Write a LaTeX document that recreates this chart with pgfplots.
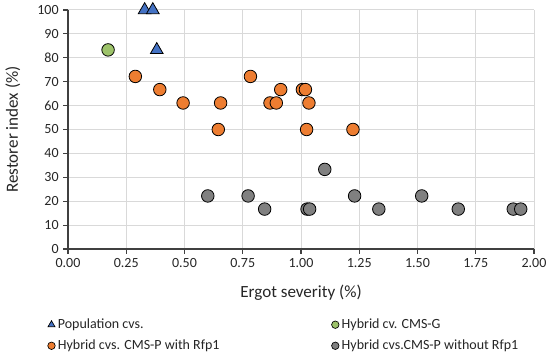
\documentclass[border=0pt]{standalone}
\usepackage{fontspec}
\setmainfont{Carlito}
\usepackage{pgfplots}
\pgfplotsset{compat=1.18}
\definecolor{cblue}{HTML}{4472C4}
\definecolor{corange}{HTML}{ED7D31}
\definecolor{cgreen}{HTML}{9DC36A}
\definecolor{cgray}{HTML}{808080}
\definecolor{gridc}{HTML}{D9D9D9}
\definecolor{axc}{HTML}{404040}
\begin{document}
\begin{tikzpicture}
\path[use as bounding box] (0pt,0pt) rectangle (412.5pt,267pt);
\begin{axis}[
  at={(51pt,80.25pt)}, anchor=south west,
  scale only axis, width=349.5pt, height=179.25pt,
  xmin=0, xmax=2, ymin=0, ymax=100,
  xtick={0,0.25,...,2.0},
  ytick={0,10,...,100},
  xticklabel style={/pgf/number format/.cd,fixed,fixed zerofill,precision=2},
  /pgf/number format/assume math mode=true,
  axis x line*=bottom, axis y line*=left,
  axis line style={axc,line width=0.8pt,-},
  tick align=outside,
  major tick length=3.5pt,
  tick style={axc,line width=0.8pt},
  grid=major,
  major grid style={gridc,line width=0.75pt},
  ticklabel style={font=\fontsize{10.5}{12}\selectfont, text=black!85},
  xlabel={Ergot severity (\%)},
  ylabel={Restorer index (\%)},
  label style={font=\fontsize{12.8}{14}\selectfont, text=black!85},
  xlabel style={yshift=-6pt},
  ylabel style={yshift=6pt},
  clip=false,
  legend columns=2,
  legend style={at={(-0.044,-0.28)}, anchor=north west, draw=none,
     font=\fontsize{10.5}{12}\selectfont, text=black!85,
     row sep=3pt, inner sep=0pt,
     /tikz/every odd column/.append style={column sep=0pt},
     /tikz/every even column/.append style={column sep=82pt}},
  legend cell align=left,
]
\addlegendimage{only marks, mark=triangle*, mark size=3pt, mark options={fill=cblue, draw=black, line width=0.5pt}}
\addlegendentry{Population cvs.}
\addlegendimage{only marks, mark=*, mark size=2.8pt, mark options={fill=cgreen, draw=black, line width=0.5pt}}
\addlegendentry{Hybrid cv. CMS-G}
\addlegendimage{only marks, mark=*, mark size=2.8pt, mark options={fill=corange, draw=black, line width=0.5pt}}
\addlegendentry{Hybrid cvs. CMS-P with Rfp1}
\addlegendimage{only marks, mark=*, mark size=2.8pt, mark options={fill=cgray, draw=black, line width=0.5pt}}
\addlegendentry{Hybrid cvs.CMS-P without Rfp1}

\addplot[forget plot, only marks, mark=*, mark size=4.7pt, mark options={fill=cgray, draw=black, line width=0.6pt}] coordinates {
(0.600,22.2) (0.773,22.2) (0.844,16.7) (1.026,16.7) (1.037,16.7) (1.102,33.3)
(1.230,22.2) (1.334,16.7) (1.518,22.2) (1.675,16.7) (1.911,16.7) (1.943,16.7)
};
\addplot[forget plot, only marks, mark=*, mark size=4.7pt, mark options={fill=corange, draw=black, line width=0.6pt}] coordinates {
(0.289,72.2) (0.394,66.7) (0.494,61.1) (0.645,50.0) (0.655,61.1) (0.783,72.2)
(0.867,61.1) (0.894,61.1) (0.913,66.7) (1.006,66.7) (1.019,66.7) (1.034,61.1)
(1.024,50.0) (1.223,50.0)
};
\addplot[forget plot, only marks, mark=*, mark size=4.7pt, mark options={fill=cgreen, draw=black, line width=0.6pt}] coordinates {
(0.172,83.3)
};
\addplot[forget plot, only marks, mark=triangle*, mark size=5.5pt, mark options={fill=cblue, draw=black, line width=0.6pt}] coordinates {
(0.329,100) (0.364,100) (0.381,83.3)
};
\end{axis}
\end{tikzpicture}
\end{document}
